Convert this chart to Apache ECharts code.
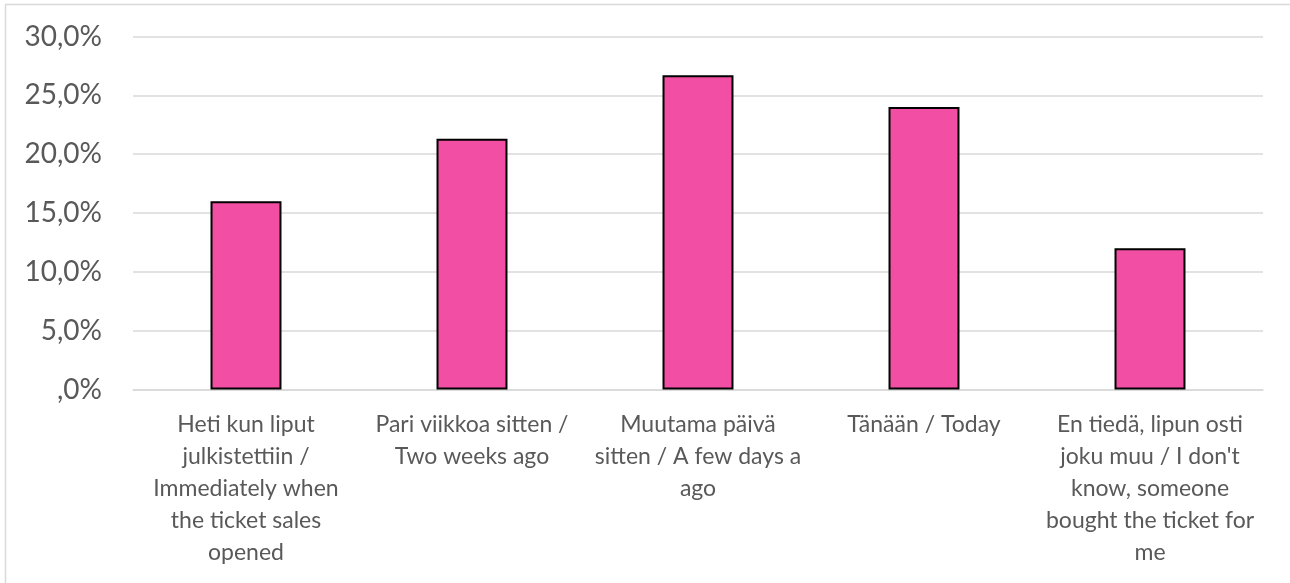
<!DOCTYPE html>
<html>
<head>
<meta charset="utf-8">
<style>
  html, body { margin: 0; padding: 0; background: #ffffff; }
  #chart { width: 1290px; height: 583px; }
</style>
<script src="https://cdn.jsdelivr.net/npm/echarts@6/dist/echarts.min.js"></script>
</head>
<body>
<div id="chart"></div>
<script>
// Answer categories (line breaks as they wrap under each bar)
const categories = [
  'Heti kun liput\njulkistettiin /\nImmediately when\nthe ticket sales\nopened',
  'Pari viikkoa sitten /\nTwo weeks ago',
  'Muutama päivä\nsitten / A few days a\nago',
  'Tänään / Today',
  'En tiedä, lipun osti\njoku muu / I don\'t\nknow, someone\nbought the ticket for\nme'
];

// Share of respondents, percent
const shares = [16.0, 21.3, 26.7, 24.0, 12.0];

// Y axis ticks, percent
const yTicks = [0, 5, 10, 15, 20, 25, 30];

const textColor = '#595959';
const gridColor = '#d9d9d9';
const fontFamily = 'Lato, "Open Sans", sans-serif';

const chart = echarts.init(document.getElementById('chart'), null, { renderer: 'canvas' });

chart.setOption({
  animation: false,
  backgroundColor: '#ffffff',
  graphic: [{
    type: 'rect',
    shape: { x: 5.5, y: 4.5, width: 1320, height: 620 },
    style: { fill: 'none', stroke: gridColor, lineWidth: 1.5 },
    silent: true,
    z: -1
  }],
  grid: {
    left: 133,
    right: 27,
    top: 36.5,
    bottom: 193.5,
    containLabel: false
  },
  xAxis: {
    type: 'category',
    data: categories,
    axisLine: { show: true, lineStyle: { color: gridColor, width: 1.5 } },
    axisTick: { show: false },
    axisLabel: {
      interval: 0,
      color: textColor,
      fontFamily: fontFamily,
      fontSize: 23,
      lineHeight: 32,
      margin: 19,
      align: 'center'
    }
  },
  yAxis: {
    type: 'value',
    min: yTicks[0],
    max: yTicks[yTicks.length - 1],
    interval: yTicks[1] - yTicks[0],
    axisLine: { show: false },
    axisTick: { show: false },
    splitLine: { lineStyle: { color: gridColor, width: 1.5 } },
    axisLabel: {
      color: textColor,
      fontFamily: fontFamily,
      fontSize: 28,
      margin: 31,
      formatter: function (v) {
        if (v === 0) return ',0%';
        return v.toFixed(1).replace('.', ',') + '%';
      }
    }
  },
  series: [{
    type: 'bar',
    data: shares,
    barWidth: '31.4%',
    itemStyle: {
      color: '#f24fa4',
      borderColor: '#000000',
      borderWidth: 2
    },
    label: { show: false }
  }]
});
</script>
</body>
</html>
